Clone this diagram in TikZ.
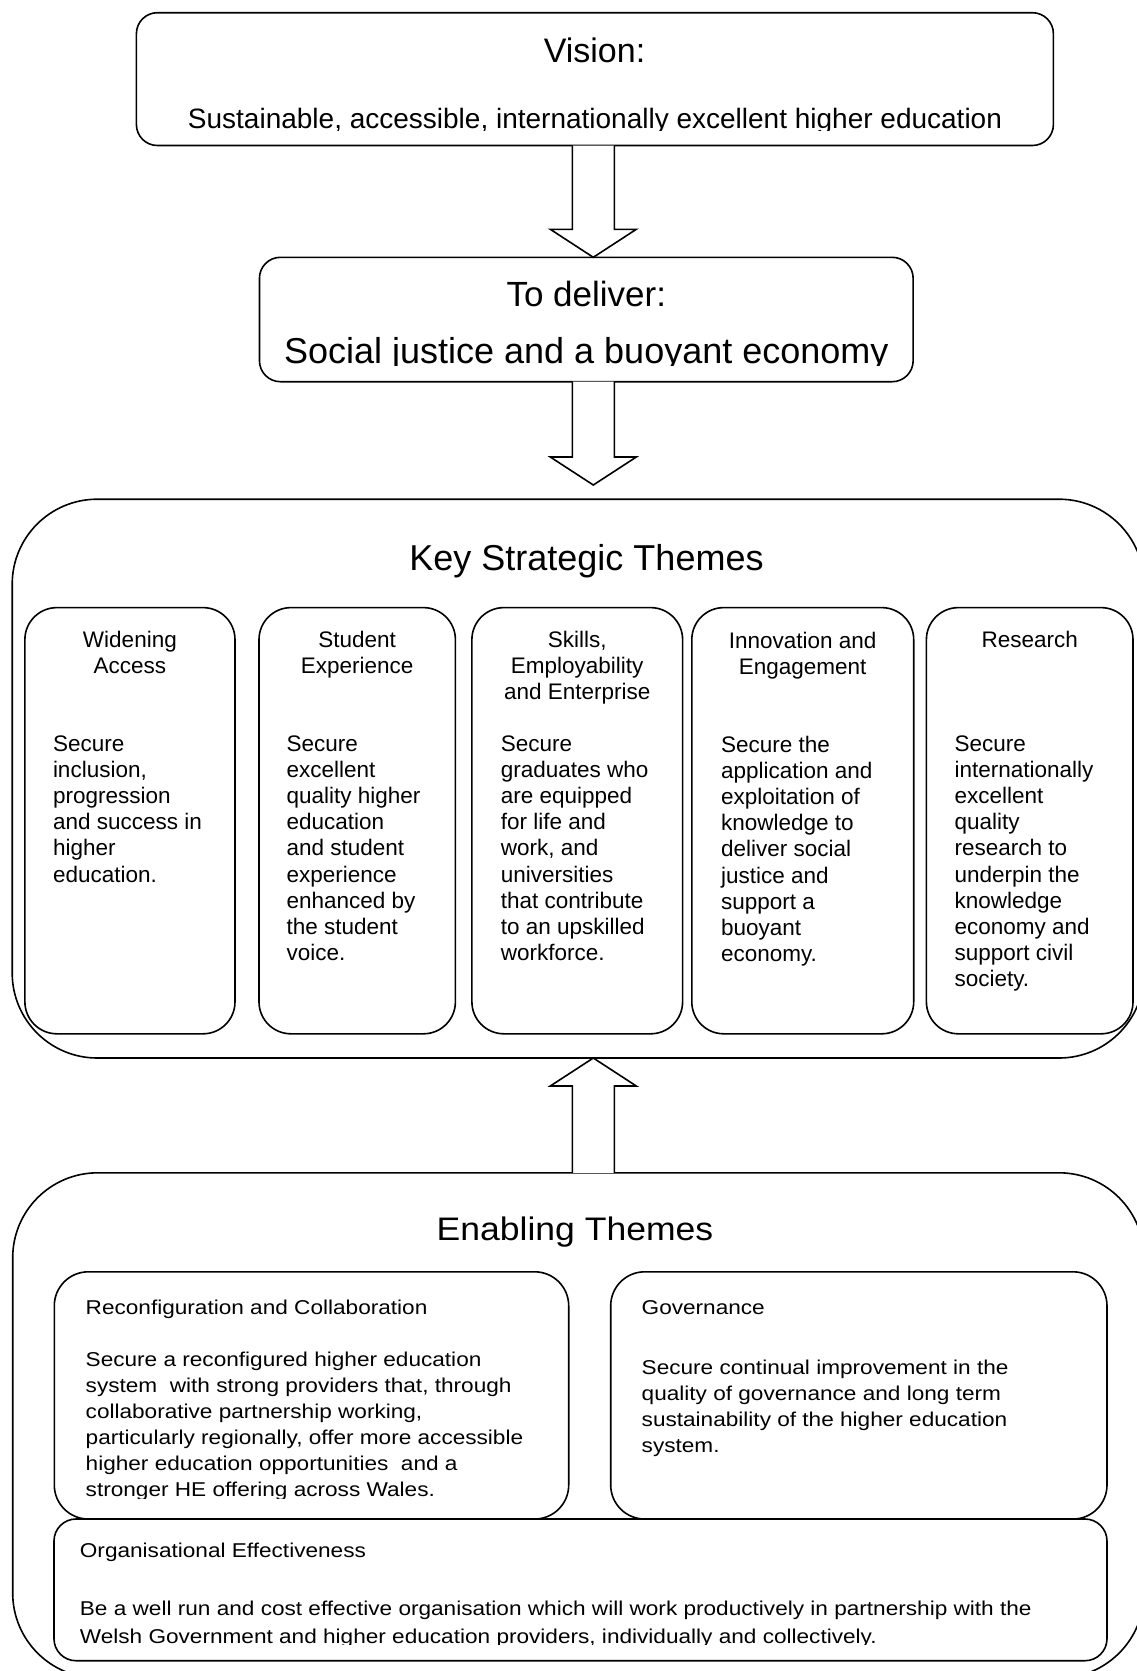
\documentclass[tikz,border=0pt]{standalone}
\usepackage{fontspec}
\setmainfont{Liberation Sans}
\usetikzlibrary{calc}

% Broad outlined arrow between two points (tail, tip)
\newcommand{\blockarrow}[2]{%
  \draw[arrowbody] let \p1=(#1), \p2=(#2), \n1={sign(\y1-(\y2))},
      \n2={\y2+(\n1)*28pt} in
    ({\x1-21pt},\y1) -- ({\x1-21pt},\n2) -- ({\x1-43pt},\n2)
    -- (\x2,\y2) -- ({\x1+43pt},\n2) -- ({\x1+21pt},\n2)
    -- ({\x1+21pt},\y1);}

% Slightly widened face used in the lower panel
\newcommand{\widefont}[3]{\fontsize{#1}{#2}\selectfont\addfontfeature{FakeStretch=#3}}

\tikzset{
  frame/.style={draw=black, line width=1.6pt, fill=white, inner sep=0pt, outer sep=0pt},
  topbox/.style={frame, rounded corners=21pt},
  bigbox/.style={frame, rounded corners=85pt},
  themebox/.style={frame, rounded corners=32pt, minimum width=#1, minimum height=426.2pt},
  enablebox/.style={frame, rounded corners=34pt},
  arrowbody/.style={draw=black, line width=1.6pt, fill=white, line join=miter},
  heading/.style={inner sep=0pt, anchor=base},
  titletext/.style={inner sep=0pt, anchor=north, align=center,
    font=\fontsize{22.5}{26}\selectfont},
  bodytext/.style={inner sep=0pt, anchor=north west, align=left,
    font=\fontsize{22.5}{26.2}\selectfont},
  enabletext/.style={inner sep=0pt, anchor=north west, align=left,
    font=\widefont{20}{#1}{1.13}},
  enabletext/.default=26,
  labeltext/.style={inner sep=0pt, anchor=base west,
    font=\widefont{20}{26}{1.13}},
}

\begin{document}
\begin{tikzpicture}[x=1pt, y=-1pt]
\useasboundingbox (0,0) rectangle (1136,1671);

% ---------- boxes ----------
\node[topbox, minimum width=917pt, minimum height=132.8pt] (vision) at (594.9,79.1) {};
\node[topbox, minimum width=653.7pt, minimum height=124.4pt] (deliver) at (586.3,319.5) {};

\node[bigbox, minimum width=1131.8pt, minimum height=558.8pt] (key) at (578.1,778.6) {};
\node[themebox=210.1pt] (k1) at (129.95,820.7) {};
\node[themebox=196.4pt] (k2) at (357.2,820.7) {};
\node[themebox=210.7pt] (k3) at (577.25,820.7) {};
\node[themebox=221.9pt] (k4) at (802.75,820.7) {};
\node[themebox=206.6pt] (k5) at (1029.7,820.7) {};

\node[bigbox, minimum width=1131.3pt, minimum height=505.2pt] (enab) at (578.35,1425.4) {};
\node[enablebox, minimum width=514.4pt, minimum height=247.2pt] (reconf) at (311.5,1395.4) {};
\node[enablebox, minimum width=496.3pt, minimum height=247.2pt] (gov) at (858.85,1395.4) {};
\node[frame, rounded corners=22pt, minimum width=1053pt, minimum height=141.7pt] (org) at (580.5,1589.85) {};

% ---------- arrows ----------
\coordinate (ax) at (593.3,0);
\coordinate (tip2) at (593.3,485);
\blockarrow{ax |- vision.south}{ax |- deliver.north}
\blockarrow{ax |- deliver.south}{tip2}
\blockarrow{ax |- enab.north}{ax |- key.south}

% ---------- headings ----------
\node[heading, font=\fontsize{34}{40}\selectfont] (visiontitle) at (594.5,62.7) {Vision:};
\coordinate (cut1) at (0,130);
\begin{scope}
  \clip (vision.north west) rectangle (vision.east |- cut1);
  \node[heading, font=\fontsize{28}{32}\selectfont] (visiontext) at (595,128.3)
    {Sustainable, accessible, internationally excellent higher education};
\end{scope}

\node[heading, font=\fontsize{35}{40}\selectfont] (delivertitle) at (586.3,306) {To deliver:};
\coordinate (cut2) at (0,365);
\begin{scope}
  \clip (deliver.north west) rectangle (deliver.east |- cut2);
  \node[heading, font=\fontsize{36}{40}\selectfont] (delivertext) at (586.3,363.3)
    {Social justice and a buoyant economy};
\end{scope}

\node[heading, font=\fontsize{36}{40}\selectfont] (keytitle) at (586.5,570.6) {Key Strategic Themes};
\node[heading, font=\widefont{32.6}{40}{1.09}] (enabtitle) at (575,1240) {Enabling Themes};

% ---------- key strategic themes ----------
\node[titletext] (k1t) at (129.9,628.9) {\strut Widening\\Access};
\node[titletext] (k2t) at (357.2,628.9) {\strut Student\\Experience};
\node[titletext] (k3t) at (577.2,628.9) {\strut Skills,\\Employability\\and Enterprise};
\node[titletext] (k4t) at (802.7,630.5) {\strut Innovation and\\Engagement};
\node[titletext] (k5t) at (1029.7,628.9) {\strut Research};

\node[bodytext] (k1b) at (52.8,732.5) {\strut Secure\\inclusion,\\progression\\and success in\\higher\\education.};
\node[bodytext] (k2b) at (286.3,732.5) {\strut Secure\\excellent\\quality higher\\education\\and student\\experience\\enhanced by\\the student\\voice.};
\node[bodytext] (k3b) at (500.6,732.5) {\strut Secure\\graduates who\\are equipped\\for life and\\work, and\\universities\\that contribute\\to an upskilled\\workforce.};
\node[bodytext] (k4b) at (720.8,733.5) {\strut Secure the\\application and\\exploitation of\\knowledge to\\deliver social\\justice and\\support a\\buoyant\\economy.};
\node[bodytext] (k5b) at (954.3,732.5) {\strut Secure\\internationally\\excellent\\quality\\research to\\underpin the\\knowledge\\economy and\\support civil\\society.};

% ---------- enabling themes ----------
\node[labeltext] (reconft) at (85.5,1314.2) {Reconfiguration and Collaboration};
\coordinate (cut3) at (0,1498);
\begin{scope}
  \clip (reconf.north west) rectangle (reconf.east |- cut3);
  \node[enabletext=26.1] (reconfb) at (85.5,1348)
    {\strut Secure a reconfigured higher education\\system~ with strong providers that, through\\collaborative partnership working,\\particularly regionally, offer more accessible\\higher education opportunities~ and a\\stronger HE offering across Wales.};
\end{scope}

\node[labeltext] (govt) at (641.5,1314.2) {Governance};
\node[enabletext=26] (govb) at (641.5,1355.8)
  {\strut Secure continual improvement in the\\quality of governance and long term\\sustainability of the higher education\\system.};

\node[labeltext] (orgt) at (79.7,1557.3) {Organisational Effectiveness};
\coordinate (cut4) at (0,1644.6);
\begin{scope}
  \clip (org.north west) rectangle (org.east |- cut4);
  \node[enabletext=27.5] (orgb) at (79.7,1596.5)
    {\strut Be a well run and cost effective organisation which will work productively in partnership with the\\Welsh Government and higher education providers, individually and collectively.};
\end{scope}
\end{tikzpicture}
\end{document}
